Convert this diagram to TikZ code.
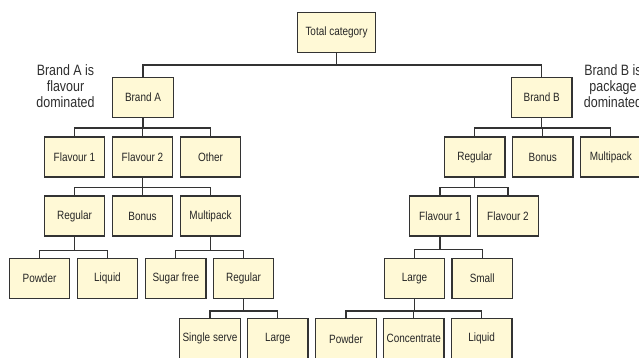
\documentclass[tikz,border=0pt]{standalone}
\usepackage{fontspec}
\setmainfont{Liberation Sans}[FakeStretch=0.83]
\newcommand\boxwidth{60.5pt}
\newcommand\boxheight{40pt}
\definecolor{boxfill}{HTML}{FFF9D6}
\definecolor{boxline}{HTML}{333333}
\definecolor{notetext}{HTML}{2E2E2E}

\tikzset{
	catbox/.style = {draw = boxline, fill = boxfill, line width = 1.2pt, minimum width = \boxwidth, minimum height = \boxheight, inner sep = 1pt, font = \fontsize{12}{14}\selectfont, text = black!85},
	link/.style = {draw = boxline, line width = 1.2pt},
	note/.style = {align = center, text = notetext, font = \fontsize{15}{16}\selectfont}
}

\begin{document}
\begin{tikzpicture}[x = 1pt, y = -1pt]
	\useasboundingbox (0, 0) rectangle (639, 358);
	\clip (0, 0) rectangle (639, 358);

	% Ebene 0
	\node [catbox, minimum width = 78pt] (tot) at (336.5, 32.5) {Total category};

	% Marken
	\node [catbox] (brA) at (143, 97.5) {Brand A};
	\node [catbox] (brB) at (541.7, 97.5) {Brand B};
	\node [note] (noteA) at (65.5, 86) {Brand A is\\flavour\\dominated};
	\node [note] (noteB) at (613, 86) {Brand B is\\package\\dominated};

	% Marke A
	\node [catbox] (flaA) at (74.5, 157) {Flavour 1};
	\node [catbox] (flbA) at (142.5, 157) {Flavour 2};
	\node [catbox] (othA) at (210.5, 157) {Other};
	\node [catbox] (regA) at (74.5, 216) {Regular};
	\node [catbox] (bonA) at (142.5, 216) {Bonus};
	\node [catbox] (mpA) at (210.5, 216) {Multipack};
	\node [catbox] (powA) at (39.5, 278.3) {Powder};
	\node [catbox] (liqA) at (107.5, 278.3) {Liquid};
	\node [catbox] (sugA) at (175.8, 278.3) {Sugar free};
	\node [catbox] (rgmA) at (243.5, 278.3) {Regular};
	\node [catbox] (sinA) at (210, 338.8) {Single serve};
	\node [catbox] (lrgA) at (277.8, 338.8) {Large};

	% Marke B
	\node [catbox] (regB) at (474.8, 157) {Regular};
	\node [catbox] (bonB) at (542.8, 157) {Bonus};
	\node [catbox] (mpB) at (610.8, 157) {Multipack};
	\node [catbox] (flaB) at (440, 216) {Flavour 1};
	\node [catbox] (flbB) at (508, 216) {Flavour 2};
	\node [catbox] (lrgB) at (414.5, 278.3) {Large};
	\node [catbox] (smlB) at (482.2, 278.3) {Small};
	\node [catbox] (powB) at (346, 338.8) {Powder};
	\node [catbox] (conB) at (413.7, 338.8) {Concentrate};
	\node [catbox] (liqB) at (481.7, 338.8) {Liquid};

	% Verbindungen: Eltern/Kind/Abstand bis Sammelleiste
	\foreach \p/\c/\d in {
		tot/brA/12, tot/brB/12,
		brA/flaA/10, brA/flbA/10, brA/othA/10,
		flbA/regA/10, flbA/bonA/10, flbA/mpA/10,
		regA/powA/14, regA/liqA/14, mpA/sugA/14, mpA/rgmA/14,
		rgmA/sinA/12, rgmA/lrgA/12,
		brB/regB/10, brB/bonB/10, brB/mpB/10,
		regB/flaB/10, regB/flbB/10,
		flaB/lrgB/13, flaB/smlB/13,
		lrgB/powB/12, lrgB/conB/12, lrgB/liqB/12
	} {
		\draw [link] (\p.south) -- ++(0, \d) -| (\c.north);
	}
\end{tikzpicture}
\end{document}
